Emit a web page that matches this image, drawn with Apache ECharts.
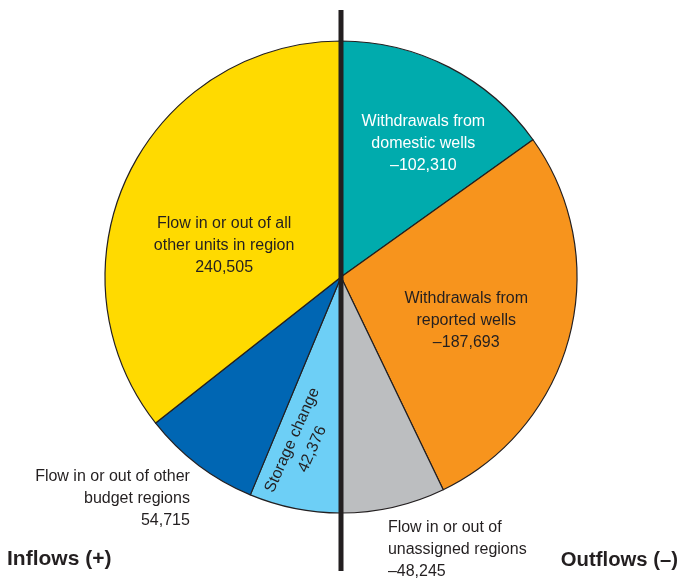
<!DOCTYPE html>
<html>
<head>
<meta charset="utf-8">
<script src="https://cdn.jsdelivr.net/npm/echarts@6/dist/echarts.min.js"></script>
<style>
  html, body { margin: 0; padding: 0; background: #ffffff; }
  #chart { width: 681px; height: 578px; }
</style>
</head>
<body>
<div id="chart"></div>
<script>
// Groundwater budget components; outflows carry a negative sign
const outflowNames = ['Withdrawals from\ndomestic wells', 'Withdrawals from\nreported wells', 'Flow in or out of\nunassigned regions'];
const outflowValues = [-102310, -187693, -48245];
const inflowNames = ['Storage change', 'Flow in or out of other\nbudget regions', 'Flow in or out of all\nother units in region'];
const inflowValues = [42376, 54715, 240505];

const outflowColors = ['#00ABAD', '#F7941D', '#BCBEC0'];
const inflowColors = ['#6DCFF6', '#0066B3', '#FFDA00'];
const ink = '#231F20';
const font = '"Liberation Sans", Arial, sans-serif';

const CX = 341, CY = 277, R = 236;
const STORAGE_ROTATE = 66;

function fmt(v) {
  return (v < 0 ? '\u2013' : '') + Math.abs(v).toLocaleString('en-US');
}

// A rotated label takes its nudge in its own frame: turn a screen shift into that frame.
function toLabelFrame(sx, sy, deg) {
  const t = deg * Math.PI / 180;
  const c = Math.cos(t), s = Math.sin(t);
  return { dx: sx * c - sy * s, dy: sx * s + sy * c };
}

// label nudges relative to the default inside-label anchor (half radius, mid-angle)
const outflowLabelShift = [
  { dx: 27, dy: -26 },
  { dx: 8, dy: 14 },
  { dx: 20, dy: 155, align: 'left' }
];
const inflowLabelShift = [
  toLabelFrame(-15, 49, STORAGE_ROTATE),
  { dx: -78, dy: 125, align: 'right' },
  { dx: -8, dy: 21 }
];

function buildData(names, values, colors, labelColors) {
  return names.map((n, i) => ({
    name: n,
    value: Math.abs(values[i]),
    signed: values[i],
    itemStyle: { color: colors[i] },
    label: { color: labelColors[i] }
  }));
}

const outflowData = buildData(outflowNames, outflowValues, outflowColors, ['#ffffff', ink, ink]);
const inflowData = buildData(inflowNames, inflowValues, inflowColors, [ink, ink, ink]);
inflowData[0].label.rotate = STORAGE_ROTATE;

const baseSeries = {
  type: 'pie',
  center: [CX, CY],
  radius: [0, R],
  clockwise: true,
  avoidLabelOverlap: false,
  silent: true,
  animation: false,
  itemStyle: { borderColor: ink, borderWidth: 1.2 },
  labelLine: { show: false },
  label: {
    show: true,
    position: 'inside',
    fontFamily: font,
    fontSize: 16,
    lineHeight: 22,
    formatter: p => p.name + '\n' + fmt(p.data.signed)
  }
};

const titleStyle = { fontFamily: font, fontWeight: 'bold', color: ink };

const option = {
  backgroundColor: '#ffffff',
  title: [
    { text: 'Inflows (+)', left: 7, bottom: 8, padding: 0,
      textStyle: Object.assign({ fontSize: 21 }, titleStyle) },
    { text: 'Outflows (\u2013)', right: 3, bottom: 8, padding: 0,
      textStyle: Object.assign({ fontSize: 20.3 }, titleStyle) }
  ],
  series: [
    Object.assign({}, baseSeries, {
      name: 'Outflows',
      startAngle: 90,
      endAngle: -90,
      data: outflowData,
      labelLayout: p => outflowLabelShift[p.dataIndex]
    }),
    Object.assign({}, baseSeries, {
      name: 'Inflows',
      startAngle: -90,
      endAngle: -270,
      data: inflowData,
      labelLayout: p => inflowLabelShift[p.dataIndex]
    })
  ],
  graphic: [
    {
      type: 'line',
      z: 100,
      shape: { x1: CX, y1: 10, x2: CX, y2: 571 },
      style: { stroke: ink, lineWidth: 5 }
    }
  ]
};

const chart = echarts.init(document.getElementById('chart'), null, { renderer: 'canvas' });
chart.setOption(option);
</script>
</body>
</html>
